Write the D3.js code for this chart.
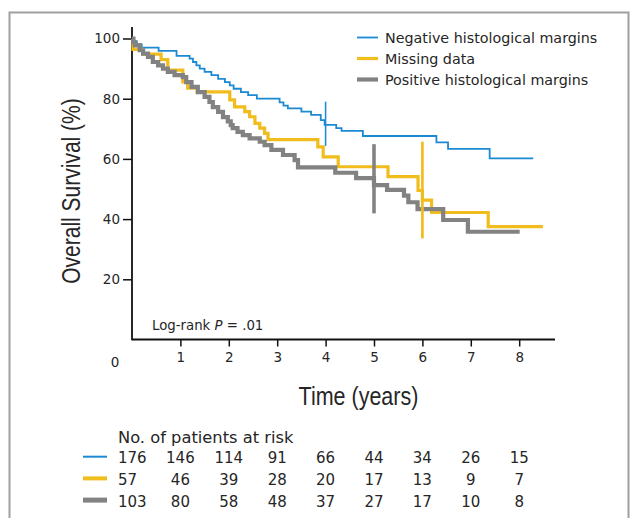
<!DOCTYPE html>
<html>
<head>
<meta charset="utf-8">
<script src="https://cdn.jsdelivr.net/npm/d3@7"></script>
<style>
  html, body { margin: 0; padding: 0; background: #fff; }
  svg text { font-family: "DejaVu Sans", sans-serif; fill: #262626; }
  .title { font-family: "Liberation Sans", Arial, sans-serif; }
</style>
</head>
<body>
<svg id="chart" width="635" height="518"></svg>
<script>
// Kaplan–Meier step points [years, survival %] for each margin group
const negativeMargins = [[0,100],[0.04,99],[0.1,98],[0.2,97],[0.55,95.9],[0.92,94.2],[1.19,93.3],[1.26,92.2],[1.33,91.1],[1.4,90.0],[1.5,88.9],[1.64,87.8],[1.78,86.6],[1.92,85.5],[2.02,84.4],[2.1,83.3],[2.25,82.2],[2.4,81.2],[2.58,80.0],[3.05,78.8],[3.13,77.7],[3.22,76.8],[3.5,75.7],[3.7,74.6],[3.9,72.9],[3.98,71.3],[4.22,70.2],[4.33,69.3],[4.77,67.6],[6.29,65.5],[6.53,63.3],[7.39,60.2]];
const missingData = [[0,100],[0.02,96.4],[0.22,94.8],[0.6,93.0],[0.74,89.5],[1.05,85.6],[1.15,83.5],[1.35,82.3],[2.02,79.6],[2.12,77.3],[2.33,75.7],[2.43,74.0],[2.54,71.8],[2.64,70.2],[2.74,68.5],[2.81,66.4],[3.84,64.0],[3.95,60.7],[4.26,57.4],[5.29,54.1],[5.91,49.5],[6.0,46.3],[6.19,42.2],[7.36,37.5]];
const positiveMargins = [[0,100],[0.03,98.8],[0.06,97.7],[0.16,96.1],[0.23,95.0],[0.33,93.9],[0.43,92.2],[0.54,91.1],[0.64,90.0],[0.74,88.9],[0.88,87.8],[1.05,87.2],[1.12,85.5],[1.23,83.9],[1.36,82.2],[1.5,80.6],[1.6,78.9],[1.67,77.2],[1.78,75.6],[1.88,73.9],[1.98,72.5],[2.04,71.2],[2.08,70.2],[2.18,69.0],[2.29,67.9],[2.43,66.8],[2.64,65.7],[2.74,64.6],[2.88,63.0],[3.12,61.3],[3.36,59.6],[3.43,57.2],[4.2,55.4],[4.63,53.6],[5.0,51.3],[5.27,49.7],[5.62,47.8],[5.71,45.6],[5.9,43.3],[6.43,39.7],[6.94,35.8]];

// last follow-up time of each group (years)
const followUpEnd = [8.29, 8.49, 8.01];

// confidence interval bars [years, lower %, upper %]
const intervalBars = [[4, 64.3, 79.0], [6, 33.6, 65.7], [5, 41.9, 64.9]];

const groupNames = ["Negative histological margins", "Missing data", "Positive histological margins"];

// number at risk at each whole year 0..8
const riskYears = [0, 1, 2, 3, 4, 5, 6, 7, 8];
const riskNegative = [176, 146, 114, 91, 66, 44, 34, 26, 15];
const riskMissing = [57, 46, 39, 28, 20, 17, 13, 9, 7];
const riskPositive = [103, 80, 58, 48, 37, 27, 17, 10, 8];

const xTicks = [1, 2, 3, 4, 5, 6, 7, 8];
const yTicks = [20, 40, 60, 80, 100];

// ---- drawing ----
const groupStyle = [
  { color: "#1b8ad3", width: 1.8, key: 2 },
  { color: "#f0bd1c", width: 3.2, key: 4 },
  { color: "#828282", width: 4.2, key: 5 }
];
const curves = [negativeMargins, missingData, positiveMargins];
const risks = [riskNegative, riskMissing, riskPositive];

const svg = d3.select("#chart");

// outer frame
svg.append("path")
  .attr("d", "M9.5,520 V12.5 H628.5 V520")
  .attr("fill", "none").attr("stroke", "#a0a0a0").attr("stroke-width", 2);

const x = d3.scaleLinear().domain([0, 8.74]).range([132, 555]);
const y = d3.scaleLinear().domain([0, 100]).range([339.5, 38.5]);

// axes
const gx = svg.append("g").attr("transform", `translate(0,${y(0)})`)
  .call(d3.axisBottom(x).tickValues(xTicks).tickSize(7).tickSizeOuter(0).tickPadding(6));
const gy = svg.append("g").attr("transform", `translate(${x(0)},0)`)
  .call(d3.axisLeft(y).tickValues(yTicks).tickSize(9).tickSizeOuter(0).tickPadding(3));
[gx, gy].forEach(g => {
  g.select(".domain").remove();
  g.selectAll("line").attr("stroke", "#111").attr("stroke-width", 1.5);
  g.selectAll("text").attr("font-family", "DejaVu Sans, sans-serif").attr("font-size", 13.5).attr("fill", "#2a2a33");
});
svg.append("line")
  .attr("x1", x(0)).attr("x2", x(0)).attr("y1", y(103.8)).attr("y2", y(0) + 0.75)
  .attr("stroke", "#111").attr("stroke-width", 1.8);
svg.append("line")
  .attr("x1", x(0)).attr("x2", x(8.74)).attr("y1", y(0)).attr("y2", y(0))
  .attr("stroke", "#111").attr("stroke-width", 1.8);
svg.append("text").attr("x", 115).attr("y", 367).attr("text-anchor", "middle")
  .attr("font-size", 13.5).attr("fill", "#2a2a33").text("0");

// axis titles, set in a condensed face
svg.append("text").attr("class", "title")
  .attr("transform", `translate(80,${(y(0) + y(100)) / 2 + 2}) rotate(-90) scale(0.84,1)`)
  .attr("text-anchor", "middle").attr("font-size", 25).attr("fill", "#222")
  .text("Overall Survival (%)");
svg.append("text").attr("class", "title")
  .attr("transform", `translate(${(x(0) + x(8.74)) / 2 + 15},405) scale(0.86,1)`)
  .attr("text-anchor", "middle").attr("font-size", 25).attr("fill", "#222")
  .text("Time (years)");

// survival curves
const line = d3.line().curve(d3.curveStepAfter).x(d => x(d[0])).y(d => y(d[1]));
curves.forEach((pts, i) => {
  const data = pts.concat([[followUpEnd[i], pts[pts.length - 1][1]]]);
  svg.append("path").datum(data)
    .attr("d", line)
    .attr("fill", "none")
    .attr("stroke", groupStyle[i].color)
    .attr("stroke-width", groupStyle[i].width);
});

// interval bars
intervalBars.forEach((b, i) => {
  svg.append("line")
    .attr("x1", x(b[0])).attr("x2", x(b[0]))
    .attr("y1", y(b[1])).attr("y2", y(b[2]))
    .attr("stroke", groupStyle[i].color)
    .attr("stroke-width", groupStyle[i].width * 0.85);
});

// log-rank annotation
const lr = svg.append("text").attr("x", 152).attr("y", 330).attr("font-size", 13.3).attr("fill", "#2a2a44");
lr.append("tspan").text("Log-rank ");
lr.append("tspan").attr("font-style", "italic").text("P");
lr.append("tspan").text(" = .01");

// legend
const legend = svg.append("g");
groupNames.forEach((name, i) => {
  const ly = 37.5 + i * 21;
  legend.append("line").attr("x1", 357).attr("x2", 378).attr("y1", ly).attr("y2", ly)
    .attr("stroke", groupStyle[i].color).attr("stroke-width", groupStyle[i].width);
  legend.append("text").attr("x", 385).attr("y", ly + 5)
    .attr("font-size", 14.3).attr("fill", "#2a2a44").text(name);
});

// numbers at risk
svg.append("text").attr("x", 118).attr("y", 443).attr("font-size", 16.3).attr("fill", "#222")
  .text("No. of patients at risk");
risks.forEach((row, i) => {
  const ry = 463.3 + i * 21.7;
  svg.append("line").attr("x1", 83).attr("x2", 107).attr("y1", ry - 6.6).attr("y2", ry - 6.6)
    .attr("stroke", groupStyle[i].color).attr("stroke-width", groupStyle[i].key);
  svg.append("g").selectAll("text").data(row).join("text")
    .attr("x", (d, j) => j === 0 ? 118 : x(riskYears[j]))
    .attr("y", ry)
    .attr("text-anchor", (d, j) => j === 0 ? "start" : "middle")
    .attr("font-size", 15).attr("fill", "#222")
    .text(d => d);
});
</script>
</body>
</html>
